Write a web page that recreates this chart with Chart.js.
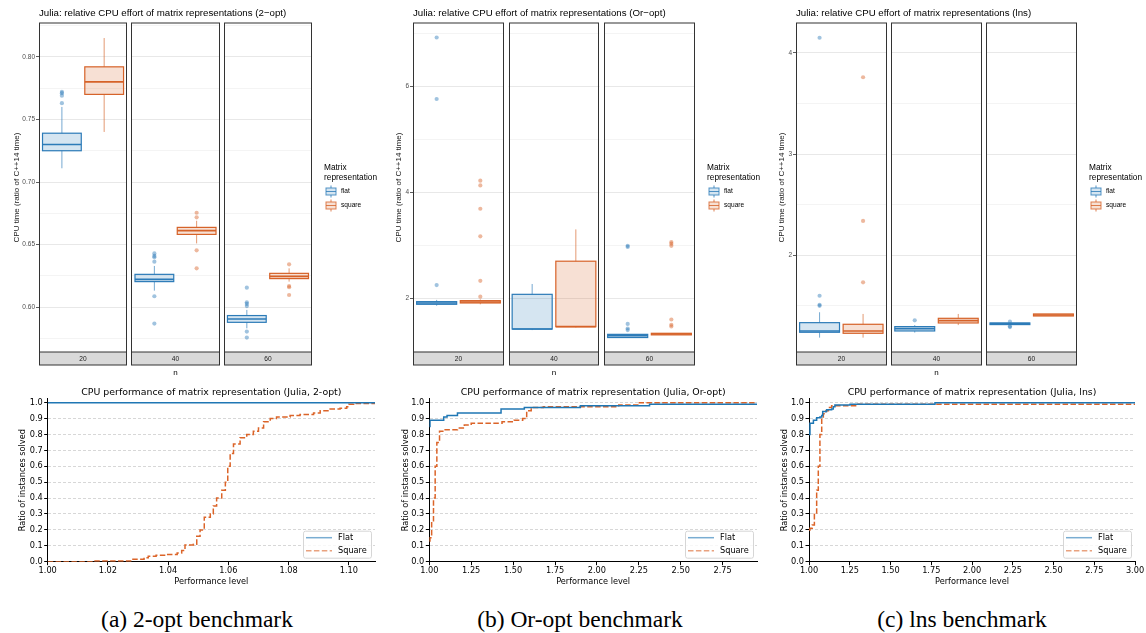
<!DOCTYPE html>
<html>
<head>
<meta charset="utf-8">
<script src="https://cdn.jsdelivr.net/npm/chart.js@4.4.1/dist/chart.umd.min.js"></script>
<style>
    html, body { margin: 0; padding: 0; background: #fff; }
    body { width: 1146px; height: 633px; position: relative; overflow: hidden; }
    canvas { position: absolute; }
    .cap {
        position: absolute; top: 605px; width: 380px; line-height: 28px;
        font-family: 'Liberation Serif', 'Times New Roman', serif; font-size: 23.5px;
        color: #000; text-align: center;
    }
</style>
</head>
<body>
<canvas id="box2opt" width="380" height="380" style="left:0;top:0"></canvas>
<canvas id="boxOrOpt" width="380" height="380" style="left:380px;top:0"></canvas>
<canvas id="boxLns" width="386" height="380" style="left:760px;top:0"></canvas>
<canvas id="prof2opt" width="380" height="210" style="left:0;top:380px"></canvas>
<canvas id="profOrOpt" width="380" height="210" style="left:380px;top:380px"></canvas>
<canvas id="profLns" width="386" height="210" style="left:760px;top:380px"></canvas>
<div class="cap" style="left:7px">(a) 2-opt benchmark</div>
<div class="cap" style="left:390px">(b) Or-opt benchmark</div>
<div class="cap" style="left:772px">(c) lns benchmark</div>

<script>
// facets and groups
const nValues = ['20', '40', '60'];
const groups = ['flat', 'square'];

// boxplots: [lower whisker, q1, median, q3, upper whisker] for n = 20, 40, 60
const twoOptFlatBoxes = [[0.711, 0.725, 0.730, 0.739, 0.760], [0.6133, 0.6205, 0.6223, 0.6263, 0.633], [0.5832, 0.5880, 0.5907, 0.5934, 0.5979]];
const twoOptSquareBoxes = [[0.740, 0.770, 0.780, 0.792, 0.815], [0.651, 0.6582, 0.6612, 0.6638, 0.6691], [0.6205, 0.6229, 0.6247, 0.6271, 0.6311]];
const twoOptFlatOutliers = [[0.772, 0.771, 0.769, 0.763], [0.643, 0.641, 0.640, 0.6364, 0.6088, 0.587], [0.6157, 0.604, 0.6027, 0.601, 0.5806, 0.5758]];
const twoOptSquareOutliers = [[], [0.6755, 0.6718, 0.6455, 0.6311], [0.6343, 0.617, 0.616, 0.6098]];
const twoOptMajorTicks = [0.60, 0.65, 0.70, 0.75, 0.80];
const twoOptMinorTicks = [0.575, 0.625, 0.675, 0.725, 0.775, 0.825];

const orOptFlatBoxes = [[1.86, 1.887, 1.912, 1.937, 1.97], [1.40, 1.42, 1.42, 2.075, 2.27], [1.26, 1.26, 1.296, 1.32, 1.32]];
const orOptSquareBoxes = [[1.887, 1.912, 1.93, 1.956, 1.98], [1.45, 1.465, 1.465, 2.70, 3.30], [1.31, 1.31, 1.327, 1.34, 1.34]];
const orOptFlatOutliers = [[6.92, 5.76, 2.25], [], [2.99, 2.97, 1.516, 1.43, 1.40]];
const orOptSquareOutliers = [[4.22, 4.13, 3.69, 3.17, 2.33, 2.03], [], [3.06, 3.03, 2.99, 1.60, 1.50, 1.47]];
const orOptMajorTicks = [2, 4, 6];
const orOptMinorTicks = [1, 3, 5, 7];

const lnsFlatBoxes = [[1.186, 1.239, 1.252, 1.334, 1.437], [1.236, 1.252, 1.275, 1.295, 1.31], [1.315, 1.315, 1.325, 1.331, 1.331]];
const lnsSquareBoxes = [[1.186, 1.229, 1.252, 1.318, 1.42], [1.31, 1.331, 1.354, 1.377, 1.42], [1.40, 1.40, 1.41, 1.42, 1.42]];
const lnsFlatOutliers = [[4.15, 1.60, 1.51, 1.50], [1.357], [1.344, 1.298, 1.29]];
const lnsSquareOutliers = [[3.76, 2.34, 1.733], [], []];
const lnsMajorTicks = [2, 3, 4];
const lnsMinorTicks = [1.5, 2.5, 3.5];

// performance profiles (performance level -> ratio of instances solved)
const twoOptFlatX = [1.0, 1.1087];
const twoOptFlatY = [1.0, 1.0];
const twoOptSquareX = [1.0, 1.015, 1.028, 1.032, 1.0334, 1.036, 1.0395, 1.043, 1.0445, 1.0456, 1.0484, 1.0495, 1.0506, 1.052, 1.054, 1.055, 1.0561, 1.0578, 1.059, 1.0598, 1.0606, 1.0617, 1.0639, 1.0661, 1.0683, 1.070, 1.0717, 1.0739, 1.076, 1.0805, 1.0838, 1.0883, 1.0905, 1.0938, 1.0971, 1.0993, 1.100, 1.1016, 1.1087];
const twoOptSquareY = [0, 0.005, 0.015, 0.025, 0.035, 0.04, 0.045, 0.055, 0.07, 0.105, 0.11, 0.16, 0.2, 0.28, 0.30, 0.35, 0.40, 0.45, 0.50, 0.60, 0.68, 0.74, 0.78, 0.80, 0.82, 0.84, 0.88, 0.90, 0.91, 0.92, 0.925, 0.935, 0.95, 0.96, 0.965, 0.975, 0.99, 0.995, 0.995];

const orOptFlatX = [1.0, 1.004, 1.086, 1.106, 1.168, 1.428, 1.567, 1.901, 2.314, 2.955];
const orOptFlatY = [0.85, 0.89, 0.91, 0.92, 0.935, 0.96, 0.97, 0.98, 0.99, 0.99];
const orOptSquareX = [1.0, 1.004, 1.014, 1.025, 1.035, 1.045, 1.061, 1.086, 1.168, 1.209, 1.25, 1.434, 1.506, 1.557, 1.581, 1.608, 1.68, 2.13, 2.253, 2.955];
const orOptSquareY = [0.13, 0.15, 0.25, 0.4, 0.6, 0.75, 0.82, 0.83, 0.84, 0.86, 0.87, 0.88, 0.89, 0.9, 0.95, 0.97, 0.975, 0.985, 1.0, 1.0];

const lnsFlatX = [1.0, 1.006, 1.027, 1.047, 1.067, 1.078, 1.084, 1.108, 1.139, 1.149, 1.159, 1.252, 1.773, 3.0];
const lnsFlatY = [0.8, 0.87, 0.89, 0.905, 0.91, 0.92, 0.945, 0.955, 0.96, 0.975, 0.985, 0.99, 1.0, 1.0];
const lnsSquareX = [1.0, 1.006, 1.02, 1.033, 1.047, 1.057, 1.067, 1.078, 1.088, 1.104, 1.119, 1.139, 1.292, 3.0];
const lnsSquareY = [0.2, 0.21, 0.23, 0.3, 0.45, 0.6, 0.8, 0.9, 0.93, 0.95, 0.97, 0.98, 0.99, 0.99];

const twoOptXTicks = [1.00, 1.02, 1.04, 1.06, 1.08, 1.10];
const orOptXTicks = [1.00, 1.25, 1.50, 1.75, 2.00, 2.25, 2.50, 2.75];
const lnsXTicks = [1.00, 1.25, 1.50, 1.75, 2.00, 2.25, 2.50, 2.75, 3.00];
const ratioTicks = [0.0, 0.1, 0.2, 0.3, 0.4, 0.5, 0.6, 0.7, 0.8, 0.9, 1.0];

document.addEventListener('DOMContentLoaded', () => {
    const SANS = "'Liberation Sans', Arial, sans-serif";
    const DEJAVU = "'DejaVu Sans', sans-serif";
    const FLAT_RGB = [44, 123, 184];
    const SQUARE_RGB = [214, 98, 40];
    const MPL_BLUE = '#1f77b4';
    const MPL_ORANGE = '#db6429';
    const rgba = (c, a) => `rgba(${c[0]},${c[1]},${c[2]},${a})`;

    const PANEL_GAP = 0.05;
    const BOX_CENTRE = [0.26, 0.74];
    const BOX_HALF = 0.22;
    const STRIP_H = 13;
    const panelX = (f, u) => f * (1 + PANEL_GAP) + u;

    const line = (ctx, x1, y1, x2, y2) => {
        ctx.beginPath();
        ctx.moveTo(x1, y1);
        ctx.lineTo(x2, y2);
        ctx.stroke();
    };

    // draws whiskers, boxes, panel frames, strips, title and legend for the faceted boxplot
    const facetPlugin = cfg => ({
        id: 'facets',
        beforeDatasetsDraw(chart) {
            const { ctx, chartArea: a, scales: { x, y } } = chart;
            ctx.save();
            ctx.fillStyle = '#fff';
            for (let f = 1; f < nValues.length; f++) {
                const g0 = x.getPixelForValue(panelX(f, -PANEL_GAP));
                const g1 = x.getPixelForValue(panelX(f, 0));
                ctx.fillRect(g0, a.top, g1 - g0, a.bottom - a.top);
            }
            [cfg.flatBoxes, cfg.squareBoxes].forEach((boxes, gi) => {
                const col = gi ? SQUARE_RGB : FLAT_RGB;
                boxes.forEach((b, f) => {
                    const [lo, q1, med, q3, hi] = b.map(v => y.getPixelForValue(v));
                    const cx = x.getPixelForValue(panelX(f, BOX_CENTRE[gi]));
                    const x0 = x.getPixelForValue(panelX(f, BOX_CENTRE[gi] - BOX_HALF));
                    const x1 = x.getPixelForValue(panelX(f, BOX_CENTRE[gi] + BOX_HALF));
                    ctx.strokeStyle = rgba(col, 0.65);
                    ctx.lineWidth = 1;
                    line(ctx, cx, hi, cx, q3);
                    line(ctx, cx, q1, cx, lo);
                    ctx.fillStyle = rgba(col, 0.2);
                    ctx.fillRect(x0, q3, x1 - x0, q1 - q3);
                    ctx.strokeStyle = rgba(col, 1);
                    ctx.lineWidth = 1.2;
                    ctx.strokeRect(x0, q3, x1 - x0, q1 - q3);
                    ctx.lineWidth = 1.6;
                    line(ctx, x0, med, x1, med);
                });
            });
            ctx.restore();
        },
        afterDraw(chart) {
            const { ctx, chartArea: a, scales: { x } } = chart;
            ctx.save();
            nValues.forEach((n, f) => {
                const p0 = Math.round(x.getPixelForValue(panelX(f, 0))) + 0.5;
                const p1 = Math.round(x.getPixelForValue(panelX(f, 1))) - 0.5;
                ctx.fillStyle = '#d9d9d9';
                ctx.fillRect(p0, a.bottom, p1 - p0, STRIP_H);
                ctx.strokeStyle = '#333';
                ctx.lineWidth = 1;
                ctx.strokeRect(p0, a.top, p1 - p0, a.bottom - a.top + STRIP_H);
                line(ctx, p0, a.bottom, p1, a.bottom);
                ctx.fillStyle = '#1a1a1a';
                ctx.font = `6.6px ${SANS}`;
                ctx.textAlign = 'center';
                ctx.textBaseline = 'middle';
                ctx.fillText(n, (p0 + p1) / 2, a.bottom + STRIP_H / 2 + 0.5);
            });
            ctx.fillStyle = '#000';
            ctx.font = `8px ${SANS}`;
            ctx.fillText('n', (a.left + a.right) / 2, a.bottom + STRIP_H + 8);

            ctx.textAlign = 'left';
            ctx.font = `9.7px ${SANS}`;
            ctx.fillText(cfg.title, a.left, 13);

            // legend
            const lx = a.right + 12;
            ctx.font = `8.3px ${SANS}`;
            ctx.fillText('Matrix', lx, 168);
            ctx.fillText('representation', lx, 177.5);
            groups.forEach((g, gi) => {
                const col = gi ? SQUARE_RGB : FLAT_RGB;
                const cy = 191.5 + gi * 14;
                const kx = lx + 7;
                ctx.strokeStyle = rgba(col, 0.8);
                ctx.lineWidth = 1;
                line(ctx, kx, cy - 6, kx, cy - 3.5);
                line(ctx, kx, cy + 3.5, kx, cy + 6);
                ctx.fillStyle = rgba(col, 0.2);
                ctx.fillRect(kx - 5, cy - 3.5, 10, 7);
                ctx.strokeRect(kx - 5, cy - 3.5, 10, 7);
                line(ctx, kx - 5, cy, kx + 5, cy);
                ctx.fillStyle = '#000';
                ctx.font = `6.6px ${SANS}`;
                ctx.fillText(g, lx + 17, cy);
            });
            ctx.restore();
        }
    });

    const boxChart = (id, cfg) => {
        const ticks = [...cfg.major, ...cfg.minor].sort((p, q) => p - q);
        const isMajor = v => cfg.major.includes(v);
        const datasets = [cfg.flatOut, cfg.squareOut].map((outs, gi) => ({
            label: groups[gi],
            data: outs.flatMap((vals, f) => vals.map(v => ({ x: panelX(f, BOX_CENTRE[gi]), y: v }))),
            backgroundColor: rgba(gi ? SQUARE_RGB : FLAT_RGB, 0.45),
            borderWidth: 0,
            pointRadius: 2.1
        }));
        return new Chart(document.getElementById(id), {
            type: 'scatter',
            data: { datasets },
            options: {
                responsive: false,
                animation: false,
                layout: { padding: { top: 23, bottom: 28, left: 0, right: cfg.padRight } },
                plugins: { legend: { display: false }, tooltip: { enabled: false } },
                scales: {
                    x: { display: false, min: 0, max: 3 + 2 * PANEL_GAP },
                    y: {
                        min: cfg.ymin,
                        max: cfg.ymax,
                        afterBuildTicks: s => { s.ticks = ticks.map(v => ({ value: v })); },
                        afterFit: s => { s.width = cfg.axisW; },
                        ticks: {
                            font: { family: SANS, size: 6.5 },
                            color: '#4d4d4d',
                            padding: 1,
                            callback: v => isMajor(v) ? cfg.fmt(v) : ''
                        },
                        grid: {
                            color: c => isMajor(c.tick.value) ? '#e8e8e8' : '#f1f1f1',
                            lineWidth: c => isMajor(c.tick.value) ? 1 : 0.8,
                            tickLength: 3,
                            tickColor: c => isMajor(c.tick.value) ? '#333' : 'rgba(0,0,0,0)',
                            tickWidth: 0.8
                        },
                        border: { display: false },
                        title: {
                            display: true,
                            text: 'CPU time (ratio of C++14 time)',
                            font: { family: SANS, size: 8 },
                            color: '#1a1a1a',
                            padding: { top: cfg.titlePad, bottom: 0 }
                        }
                    }
                }
            },
            plugins: [facetPlugin(cfg)]
        });
    };

    // title and framed legend of the profile plots
    const profilePlugin = title => ({
        id: 'profileDecor',
        afterDatasetsDraw(chart) {
            const { ctx, chartArea: a } = chart;
            ctx.save();
            ctx.fillStyle = '#000';
            ctx.font = `9.4px ${DEJAVU}`;
            ctx.textAlign = 'center';
            ctx.textBaseline = 'middle';
            ctx.fillText(title, (a.left + a.right) / 2, 13);

            const w = 68, h = 27;
            const x0 = a.right - 4 - w, y0 = a.bottom - 4 - h;
            ctx.beginPath();
            ctx.roundRect(x0 + 0.5, y0 + 0.5, w, h, 2);
            ctx.fillStyle = 'rgba(255,255,255,0.8)';
            ctx.fill();
            ctx.strokeStyle = '#d6d6d6';
            ctx.lineWidth = 1;
            ctx.stroke();
            chart.data.datasets.forEach((ds, i) => {
                const yy = y0 + 7 + i * 13;
                ctx.strokeStyle = ds.legendColor;
                ctx.lineWidth = 1.5;
                ctx.setLineDash(ds.borderDash || []);
                line(ctx, x0 + 3, yy, x0 + 29, yy);
                ctx.setLineDash([]);
                ctx.fillStyle = '#000';
                ctx.font = `8.2px ${DEJAVU}`;
                ctx.textAlign = 'left';
                ctx.fillText(ds.label, x0 + 35, yy);
            });
            ctx.restore();
        }
    });

    const points = (xs, ys) => xs.map((v, i) => ({ x: v, y: ys[i] }));

    const profileChart = (id, cfg) => new Chart(document.getElementById(id), {
        type: 'line',
        data: {
            datasets: [{
                label: 'Flat',
                data: points(cfg.flatX, cfg.flatY),
                borderColor: MPL_BLUE,
                legendColor: 'rgba(31,119,180,0.6)',
                borderWidth: 1.5,
                pointRadius: 0,
                stepped: 'before'
            }, {
                label: 'Square',
                data: points(cfg.squareX, cfg.squareY),
                borderColor: MPL_ORANGE,
                legendColor: 'rgba(219,100,41,0.6)',
                borderDash: [5.5, 2.4],
                borderWidth: 1.5,
                pointRadius: 0,
                stepped: 'before'
            }]
        },
        options: {
            responsive: false,
            animation: false,
            layout: { padding: { top: 18.7, right: cfg.padRight, left: 0, bottom: 0 } },
            plugins: { legend: { display: false }, tooltip: { enabled: false } },
            scales: {
                x: {
                    type: 'linear',
                    min: 1,
                    max: cfg.xmax,
                    afterBuildTicks: s => { s.ticks = cfg.xTicks.map(v => ({ value: v })); },
                    afterFit: s => { s.height = 28.3; },
                    ticks: {
                        font: { family: DEJAVU, size: 8.2 },
                        color: '#000',
                        padding: 1,
                        maxRotation: 0,
                        autoSkip: false,
                        callback: v => v.toFixed(2)
                    },
                    grid: { drawOnChartArea: false, tickLength: 3.5, tickColor: '#000' },
                    border: { color: '#000', width: 1 },
                    title: {
                        display: true,
                        text: 'Performance level',
                        font: { family: DEJAVU, size: 8.2 },
                        color: '#000',
                        padding: { top: 0, bottom: 3 }
                    }
                },
                y: {
                    min: 0,
                    max: 1.025,
                    afterBuildTicks: s => { s.ticks = ratioTicks.map(v => ({ value: v })); },
                    afterFit: s => { s.width = cfg.axisW; },
                    ticks: {
                        font: { family: DEJAVU, size: 8.2 },
                        color: '#000',
                        padding: 1.5,
                        callback: v => v.toFixed(1)
                    },
                    grid: { color: 'rgba(0,0,0,0.2)', lineWidth: 0.8, tickLength: 3.5, tickColor: '#000', tickWidth: 1 },
                    border: { color: '#000', width: 1, dash: [3, 2] },
                    title: {
                        display: true,
                        text: 'Ratio of instances solved',
                        font: { family: DEJAVU, size: 8.2 },
                        color: '#000',
                        padding: { top: cfg.titlePad, bottom: 0 }
                    }
                }
            }
        },
        plugins: [profilePlugin(cfg.title)]
    });

    // top row: boxplots faceted by n
    boxChart('box2opt', {
        title: 'Julia: relative CPU effort of matrix representations (2\u2212opt)',
        flatBoxes: twoOptFlatBoxes, squareBoxes: twoOptSquareBoxes,
        flatOut: twoOptFlatOutliers, squareOut: twoOptSquareOutliers,
        major: twoOptMajorTicks, minor: twoOptMinorTicks, fmt: v => v.toFixed(2),
        ymin: 0.5643, ymax: 0.8270, axisW: 39, padRight: 68, titlePad: 11.7
    });
    boxChart('boxOrOpt', {
        title: 'Julia: relative CPU effort of matrix representations (Or\u2212opt)',
        flatBoxes: orOptFlatBoxes, squareBoxes: orOptSquareBoxes,
        flatOut: orOptFlatOutliers, squareOut: orOptSquareOutliers,
        major: orOptMajorTicks, minor: orOptMinorTicks, fmt: v => String(v),
        ymin: 0.987, ymax: 7.194, axisW: 33, padRight: 65, titlePad: 14.2
    });
    boxChart('boxLns', {
        title: 'Julia: relative CPU effort of matrix representations (lns)',
        flatBoxes: lnsFlatBoxes, squareBoxes: lnsSquareBoxes,
        flatOut: lnsFlatOutliers, squareOut: lnsSquareOutliers,
        major: lnsMajorTicks, minor: lnsMinorTicks, fmt: v => String(v),
        ymin: 1.044, ymax: 4.296, axisW: 36, padRight: 69, titlePad: 17.2
    });

    // bottom row: performance profiles
    profileChart('prof2opt', {
        title: 'CPU performance of matrix representation (Julia, 2-opt)',
        flatX: twoOptFlatX, flatY: twoOptFlatY, squareX: twoOptSquareX, squareY: twoOptSquareY,
        xTicks: twoOptXTicks, xmax: 1.1087, axisW: 47.7, padRight: 5, titlePad: 18
    });
    profileChart('profOrOpt', {
        title: 'CPU performance of matrix representation (Julia, Or-opt)',
        flatX: orOptFlatX, flatY: orOptFlatY, squareX: orOptSquareX, squareY: orOptSquareY,
        xTicks: orOptXTicks, xmax: 2.955, axisW: 49.3, padRight: 3, titlePad: 21
    });
    profileChart('profLns', {
        title: 'CPU performance of matrix representation (Julia, lns)',
        flatX: lnsFlatX, flatY: lnsFlatY, squareX: lnsSquareX, squareY: lnsSquareY,
        xTicks: lnsXTicks, xmax: 3.0, axisW: 49, padRight: 11, titlePad: 20
    });
});
</script>
</body>
</html>
